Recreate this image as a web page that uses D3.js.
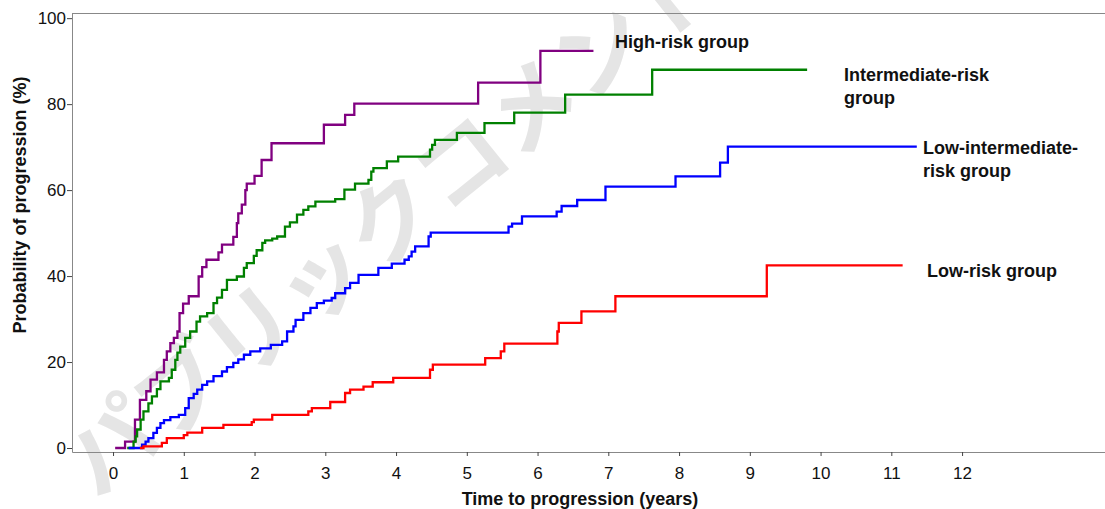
<!DOCTYPE html>
<html>
<head>
<meta charset="utf-8">
<script src="https://cdn.jsdelivr.net/npm/d3@7"></script>
<style>
  body { margin: 0; background: #fff; }
  svg { display: block; font-family: Arial, "Liberation Sans", sans-serif; }
</style>
</head>
<body>
<div id="chart"></div>
<script>
// step points: time (years), cumulative progression (%)
const highT = [0.03, 0.17, 0.31, 0.38, 0.47, 0.53, 0.62, 0.72, 0.76, 0.81, 0.86, 0.91, 0.94, 0.99, 1.07, 1.21, 1.26, 1.32, 1.49, 1.54, 1.70, 1.75, 1.77, 1.82, 1.87, 1.89, 2.0, 2.1, 2.24, 2.98, 3.28, 3.41, 5.16, 6.04, 6.79];
const highV = [0, 1.5, 6.6, 11.2, 13.2, 15.9, 17.6, 20.5, 22.5, 24.4, 25.6, 27.1, 31.4, 33.6, 35.3, 39.9, 42.1, 43.8, 45.5, 47.3, 49.1, 52.3, 54.6, 56.6, 60, 61.5, 63.3, 67, 70.9, 75.2, 77.5, 80.1, 85, 92.4, 92.4];

const interT = [0.2, 0.29, 0.32, 0.34, 0.39, 0.43, 0.50, 0.55, 0.62, 0.67, 0.79, 0.83, 0.88, 0.91, 0.95, 1.02, 1.09, 1.18, 1.23, 1.33, 1.42, 1.47, 1.54, 1.61, 1.75, 1.85, 1.89, 1.99, 2.03, 2.11, 2.15, 2.25, 2.32, 2.43, 2.50, 2.60, 2.69, 2.76, 2.86, 3.14, 3.27, 3.42, 3.61, 3.65, 3.68, 3.87, 4.03, 4.48, 4.51, 4.55, 4.86, 5.25, 5.67, 6.39, 7.62, 9.81];
const interV = [0, 1.5, 2.7, 4.3, 6.6, 8.5, 10.4, 12.0, 13.7, 15.5, 16.3, 18.2, 20.5, 22.2, 23.6, 25.6, 27.1, 29.4, 30.6, 31.4, 33.7, 35.0, 36.8, 39.1, 39.9, 41.9, 43.0, 44.7, 46.0, 47.7, 48.3, 48.7, 49.2, 51.5, 52.5, 54.3, 55.4, 56.2, 57.3, 57.9, 60.1, 61.5, 62.4, 64.3, 65.1, 66.7, 67.8, 69.4, 70.5, 71.7, 73.3, 75.6, 78.0, 82.2, 88.0, 88.0];

const lowInterT = [0.22, 0.41, 0.46, 0.50, 0.57, 0.62, 0.67, 0.72, 0.81, 0.93, 1.02, 1.07, 1.14, 1.19, 1.26, 1.33, 1.42, 1.54, 1.61, 1.70, 1.77, 1.85, 1.94, 2.08, 2.23, 2.39, 2.46, 2.55, 2.58, 2.69, 2.79, 2.88, 2.98, 3.09, 3.14, 3.28, 3.35, 3.47, 3.75, 3.94, 4.12, 4.18, 4.22, 4.27, 4.46, 4.49, 5.59, 5.64, 5.78, 6.27, 6.34, 6.56, 6.96, 7.95, 8.58, 8.69, 11.36];
const lowInterV = [0, 0.8, 1.5, 2.3, 3.5, 4.7, 5.8, 6.5, 7.2, 7.7, 9.3, 11.6, 12.6, 13.6, 14.7, 15.5, 16.7, 17.8, 18.8, 19.8, 20.6, 21.7, 22.5, 23.2, 24.0, 24.8, 27.1, 28.3, 29.8, 31.4, 32.6, 33.7, 34.3, 34.9, 36.0, 37.2, 38.4, 40.3, 41.9, 42.9, 43.8, 44.6, 45.7, 46.9, 49.2, 50.1, 51.5, 52.2, 53.9, 55.0, 56.3, 57.7, 60.8, 63.2, 66.4, 70.1, 70.1];

const lowT = [0.38, 0.43, 0.69, 0.76, 1.0, 1.05, 1.26, 1.56, 1.96, 1.99, 2.25, 2.76, 2.81, 3.07, 3.28, 3.35, 3.54, 3.67, 3.96, 4.48, 4.52, 5.26, 5.48, 5.53, 6.28, 6.30, 6.62, 7.10, 9.24, 11.16];
const lowV = [0, 0.4, 1.2, 2.3, 3.0, 3.6, 4.7, 5.4, 6.0, 6.6, 7.7, 8.5, 9.3, 10.7, 12.8, 13.6, 14.3, 15.3, 16.3, 18.2, 19.4, 20.9, 22.5, 24.3, 27.1, 29.1, 31.8, 35.3, 42.5, 42.5];

const xTicks = [0, 1, 2, 3, 4, 5, 6, 7, 8, 9, 10, 11, 12];
const yTicks = [0, 20, 40, 60, 80, 100];

const groups = [
    {t: highT, v: highV, color: "#800080", label: ["High-risk group"], lx: 615, ly: 48},
    {t: interT, v: interV, color: "#008000", label: ["Intermediate-risk", "group"], lx: 844, ly: 81},
    {t: lowInterT, v: lowInterV, color: "#0000ff", label: ["Low-intermediate-", "risk group"], lx: 923, ly: 154},
    {t: lowT, v: lowV, color: "#ff0000", label: ["Low-risk group"], lx: 927, ly: 277}
];

const W = 1105, H = 509;
const margin = {top: 13, right: 0, bottom: 57, left: 72};

const svg = d3.select("#chart").append("svg")
    .attr("width", W)
    .attr("height", H);

// watermark behind everything
svg.append("text")
    .attr("transform", "translate(97,500) rotate(-39)")
    .style("font-family", "'Noto Sans CJK JP', sans-serif")
    .style("font-size", "90px")
    .style("font-weight", "bold")
    .style("fill", "#e5e5e5")
    .text("パブリックコメント");

const x = d3.scaleLinear()
    .domain([-0.58, 14.02])
    .range([margin.left, W - margin.right]);

const y = d3.scaleLinear()
    .domain([-0.93, 101.2])
    .range([H - margin.bottom, margin.top]);

// frame top line
svg.append("line")
    .attr("x1", margin.left).attr("x2", W)
    .attr("y1", margin.top + 0.5).attr("y2", margin.top + 0.5)
    .attr("stroke", "#888");

const xAxis = svg.append("g")
    .attr("transform", `translate(0,${H - margin.bottom})`)
    .call(d3.axisBottom(x).tickValues(xTicks).tickSize(4).tickSizeOuter(0).tickPadding(11));

const yAxis = svg.append("g")
    .attr("transform", `translate(${margin.left},0)`)
    .call(d3.axisLeft(y).tickValues(yTicks).tickSize(5).tickSizeOuter(0).tickPadding(1));

[xAxis, yAxis].forEach(g => {
    g.select(".domain").attr("stroke", "#888");
    g.selectAll(".tick line").attr("stroke", "#444");
    g.selectAll(".tick text")
        .style("font-size", "17px")
        .style("fill", "#111")
        .style("font-family", "Arial, 'Liberation Sans', sans-serif");
});

const line = d3.line()
    .x(d => x(d[0]))
    .y(d => y(d[1]))
    .curve(d3.curveStepAfter);

groups.forEach(g => {
    const pts = g.t.map((t, i) => [t, g.v[i]]);
    svg.append("path")
        .datum(pts)
        .attr("fill", "none")
        .attr("stroke", g.color)
        .attr("stroke-width", 2.3)
        .attr("d", line);

    const txt = svg.append("text")
        .attr("x", g.lx)
        .attr("y", g.ly)
        .style("font-size", "18px")
        .style("font-weight", "bold")
        .style("fill", "#111");
    g.label.forEach((s, i) => {
        txt.append("tspan")
            .attr("x", g.lx)
            .attr("dy", i === 0 ? 0 : 23)
            .text(s);
    });
});

// axis titles
svg.append("text")
    .attr("transform", "translate(26,205) rotate(-90)")
    .attr("text-anchor", "middle")
    .style("font-size", "18px")
    .style("font-weight", "bold")
    .style("fill", "#111")
    .text("Probability of progression (%)");

svg.append("text")
    .attr("x", 580)
    .attr("y", 505)
    .attr("text-anchor", "middle")
    .style("font-size", "18px")
    .style("font-weight", "bold")
    .style("fill", "#111")
    .text("Time to progression (years)");
</script>
</body>
</html>
